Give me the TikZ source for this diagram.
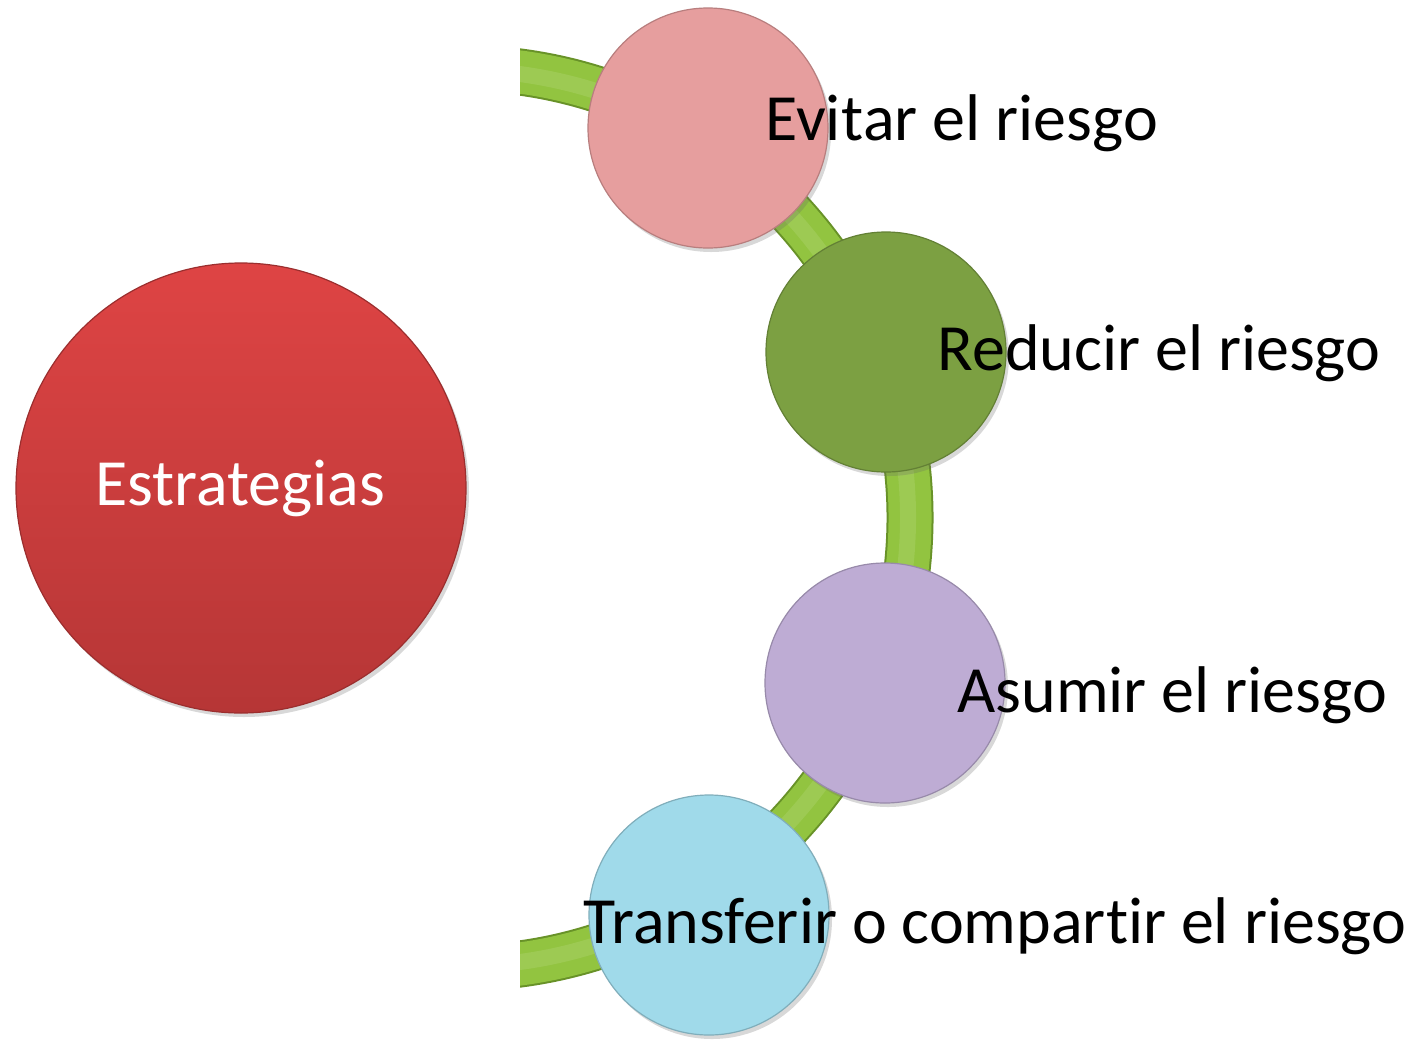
\documentclass[tikz,border=0pt]{standalone}
\usepackage{fontspec}
\setmainfont{Carlito}[Ligatures={NoCommon,NoContextual,NoRequired}, Contextuals=NoAlternate]
\usetikzlibrary{shadows}
\definecolor{bandfill}{RGB}{146,196,64}
\definecolor{bandedge}{RGB}{104,146,40}
\definecolor{pinkc}{RGB}{230,158,158}
\definecolor{greenc}{RGB}{124,160,66}
\definecolor{purplec}{RGB}{190,172,212}
\definecolor{bluec}{RGB}{160,218,234}
\definecolor{redtop}{RGB}{222,68,68}
\definecolor{redbot}{RGB}{182,54,54}
\tikzset{
  bubble/.style={circle, draw=#1!80!black, line width=0.6pt, fill=#1, minimum size=120pt, inner sep=0pt,
     drop shadow={shadow xshift=1.5pt, shadow yshift=-2pt, opacity=0.25, fill=black!60}},
  label/.style={anchor=base west, font=\fontsize{33}{40}\selectfont, inner sep=0pt, text=black},
}
\begin{document}
\begin{tikzpicture}[x=0.5pt,y=-0.5pt]
\useasboundingbox (0,0) rectangle (1417,1039);
\fill[white] (0,0) rectangle (1417,1039);
% main circle
\node[circle, draw=redbot!85!black, line width=0.6pt, top color=redtop, bottom color=redbot, minimum size=225pt, inner sep=0pt,
      drop shadow={shadow xshift=1.5pt, shadow yshift=-2pt, opacity=0.25, fill=black!60}] (main) at (241,488) {};
\node[label, text=white] (maint) at (95,505) {Estrategias};
% band
\coordinate (ac) at (460,518);
\begin{scope}
\clip (520,0) rectangle (1417,1039);
\draw[bandedge, line width=23.5pt] (ac) ++(-85:450) arc[start angle=-85, end angle=85, radius=450];
\draw[bandfill, line width=21.5pt] (ac) ++(-85:450) arc[start angle=-85, end angle=85, radius=450];
\draw[bandfill!60!white, line width=8pt, opacity=0.25] (ac) ++(-85:448) arc[start angle=-85, end angle=85, radius=448];
\end{scope}
% item circles
\node[bubble=pinkc] (c1) at (708,128) {};
\node[bubble=greenc] (c2) at (886,352) {};
\node[bubble=purplec] (c3) at (885,683) {};
\node[bubble=bluec] (c4) at (709,915) {};
% labels
\node[label] (t1) at (765,140) {Evit\kern0pt ar el riesgo};
\node[label] (t2) at (937,370) {Reducir el riesgo};
\node[label] (t3) at (957,712) {Asumir el riesgo};
\node[label] (t4) at (583,943) {Transferir o compart\kern0pt ir el riesgo};
\end{tikzpicture}
\end{document}
